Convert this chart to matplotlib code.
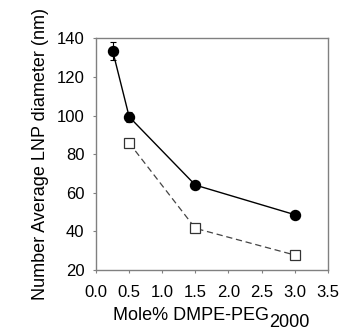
import numpy as np
import matplotlib
matplotlib.use("Agg")
from matplotlib import pyplot as plt

plt.rcParams['font.family'] = ['Liberation Sans', 'DejaVu Sans']

# LNP size vs PEG-lipid content
mole_pct_filled = [0.25, 0.5, 1.5, 3.0]
diam_filled = [133.5, 99.3, 64.0, 48.7]
err_filled = [4.7, 2.5, 0.8, 0.8]

mole_pct_open = [0.5, 1.5, 3.0]
diam_open = [85.8, 41.6, 27.8]

xticks = [0.0, 0.5, 1.0, 1.5, 2.0, 2.5, 3.0, 3.5]
yticks = [20, 40, 60, 80, 100, 120, 140]

fig = plt.figure(figsize=(3.56, 3.33), dpi=100)
ax = fig.add_axes([0.270, 0.189, 0.6505, 0.696])

ax.errorbar(mole_pct_filled, diam_filled, yerr=err_filled, fmt='o-', color='black',
            markersize=7.2, linewidth=1, elinewidth=0.8, capsize=2.5, capthick=0.8, zorder=3)
ax.plot(mole_pct_open, diam_open, linestyle=(0, (5, 3)), color='#444444', linewidth=0.9,
        marker='s', markersize=6.5, markerfacecolor='white', markeredgecolor='#333333',
        markeredgewidth=0.9, zorder=3)

ax.set_xlim(0, 3.5)
ax.set_ylim(20, 140)
ax.set_xticks(xticks)
ax.set_xticklabels(['%.1f' % t for t in xticks])
ax.set_yticks(yticks)

for s in ax.spines.values():
    s.set_color('#808080')
    s.set_linewidth(1.0)
ax.tick_params(axis='both', direction='out', length=2.5, width=0.8, color='#808080',
               labelsize=12)
ax.tick_params(axis='x', pad=8)
ax.tick_params(axis='y', pad=6)

ax.set_ylabel('Number Average LNP diameter (nm)', fontsize=13, labelpad=5)

main = fig.text(0.3166, 0.040, 'Mole% DMPE-PEG', fontsize=13, ha='left', va='baseline')
ax.annotate('2000', xy=(1, 0), xycoords=main, xytext=(0, -2.5), textcoords='offset points',
            fontsize=13, ha='left', va='baseline')

fig.savefig('out.png', dpi=100)
